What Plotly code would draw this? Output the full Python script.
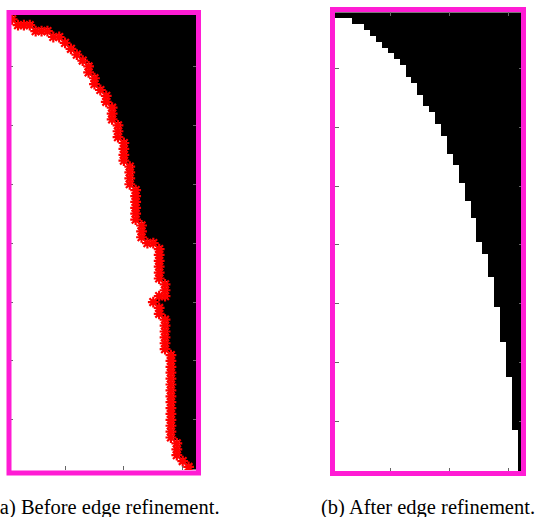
import numpy as np
import plotly.graph_objects as go

# Binary segmentation masks: for each image row (top to bottom) the number of
# foreground (white) pixels counted from the left edge. Images are 32 x 78.
N_COLS = 32
before_widths = [
    0, 1, 4, 7, 9, 10, 11, 12, 13, 14,
    14, 15, 15, 16, 17, 17, 18, 18, 18, 19,
    19, 19, 20, 20, 20, 20, 21, 21, 21, 21,
    22, 22, 22, 22, 22, 22, 23, 23, 23, 25,
    26, 26, 26, 26, 26, 26, 27, 27, 27, 25,
    26, 26, 27, 27, 27, 27, 27, 27, 28, 28,
    28, 28, 28, 28, 28, 28, 28, 28, 28, 28,
    28, 28, 28, 29, 29, 29, 30, 31,
]
after_widths = [
    0, 3, 5, 6, 7, 8, 9, 10, 11, 12,
    12, 13, 14, 14, 15, 15, 16, 17, 17, 18,
    18, 19, 19, 19, 20, 20, 21, 21, 21, 22,
    22, 22, 23, 23, 23, 24, 24, 24, 24, 25,
    25, 26, 26, 26, 26, 27, 27, 27, 27, 27,
    28, 28, 28, 28, 28, 28, 29, 29, 29, 29,
    29, 29, 30, 30, 30, 30, 30, 30, 30, 30,
    30, 31, 31, 31, 31, 31, 31, 31,
]
captions = ["(a) Before edge refinement.", "(b) After edge refinement."]
x_ticks = [10, 20, 30]
y_ticks = [10, 20, 30, 40, 50, 60, 70]


def to_mask(widths):
    mask = np.zeros((len(widths), N_COLS), dtype=int)
    for r, w in enumerate(widths):
        mask[r, :w] = 1
    return mask


def edge_pixels(mask):
    """Foreground pixels that touch background (4-neighbourhood)."""
    rows, cols = mask.shape
    xs, ys = [], []
    for r in range(rows):
        for c in range(cols):
            if not mask[r, c]:
                continue
            nbrs = []
            if c + 1 < cols:
                nbrs.append(mask[r, c + 1])
            if c > 0:
                nbrs.append(mask[r, c - 1])
            if r > 0:
                nbrs.append(mask[r - 1, c])
            if r + 1 < rows:
                nbrs.append(mask[r + 1, c])
            if not all(nbrs):
                xs.append(c + 1)
                ys.append(r + 1)
    return xs, ys


before = to_mask(before_widths)
after = to_mask(after_widths)
cols = list(range(1, N_COLS + 1))
rows = list(range(1, len(before_widths) + 1))
bw = [[0, "black"], [1, "white"]]

fig = go.Figure()
fig.add_trace(go.Heatmap(z=before, x=cols, y=rows, colorscale=bw, zmin=0, zmax=1,
                         showscale=False, xaxis="x", yaxis="y", hoverinfo="skip"))
ex, ey = edge_pixels(before)
fig.add_trace(go.Scatter(x=ex, y=ey, mode="markers", xaxis="x", yaxis="y",
                         marker=dict(symbol="asterisk-open", size=9, color="red",
                                     line=dict(color="red", width=2.2)),
                         hoverinfo="skip", showlegend=False))
fig.add_trace(go.Heatmap(z=after, x=cols, y=rows, colorscale=bw, zmin=0, zmax=1,
                         showscale=False, xaxis="x2", yaxis="y2", hoverinfo="skip"))

W, H = 538, 517


def px_x(v):
    return v / W


def px_y(v):
    return (H - v) / H


axis_common = dict(ticks="inside", ticklen=4, tickwidth=1, tickcolor="#666",
                   showticklabels=False, showgrid=False, zeroline=False,
                   showline=False, mirror="ticks")

fig.update_layout(
    width=W, height=H, margin=dict(l=0, r=0, t=0, b=0),
    paper_bgcolor="white", plot_bgcolor="white", showlegend=False,
    xaxis=dict(domain=[px_x(9.2), px_x(197.4)], range=[0.5, N_COLS + 0.5],
               tickvals=x_ticks, anchor="y", **axis_common),
    yaxis=dict(domain=[px_y(469.9), px_y(10.5)], range=[len(rows) + 0.5, 0.5],
               tickvals=y_ticks, anchor="x", **axis_common),
    xaxis2=dict(domain=[px_x(334.7), px_x(523.2)], range=[0.5, N_COLS + 0.5],
                tickvals=x_ticks, anchor="y2", **axis_common),
    yaxis2=dict(domain=[px_y(471.7), px_y(12.3)], range=[len(rows) + 0.5, 0.5],
                tickvals=y_ticks, anchor="x2", **axis_common),
)

# Magenta frames around both panels
frame_color = "rgb(255,28,212)"
for (x0, x1, y0, y1) in [(9, 198.5, 12.5, 473), (332.5, 523.5, 9.5, 473.5)]:
    fig.add_shape(type="rect", xref="paper", yref="paper",
                  x0=px_x(x0), x1=px_x(x1), y0=px_y(y1), y1=px_y(y0),
                  line=dict(color=frame_color, width=5), layer="above")

for text, cx in zip(captions, [106, 428]):
    fig.add_annotation(text=text, xref="paper", yref="paper", x=px_x(cx), y=px_y(494),
                       xanchor="center", yanchor="top", showarrow=False,
                       font=dict(family="Liberation Serif, Times New Roman, serif",
                                 size=20.5, color="black"))

fig.write_html("out.html")
